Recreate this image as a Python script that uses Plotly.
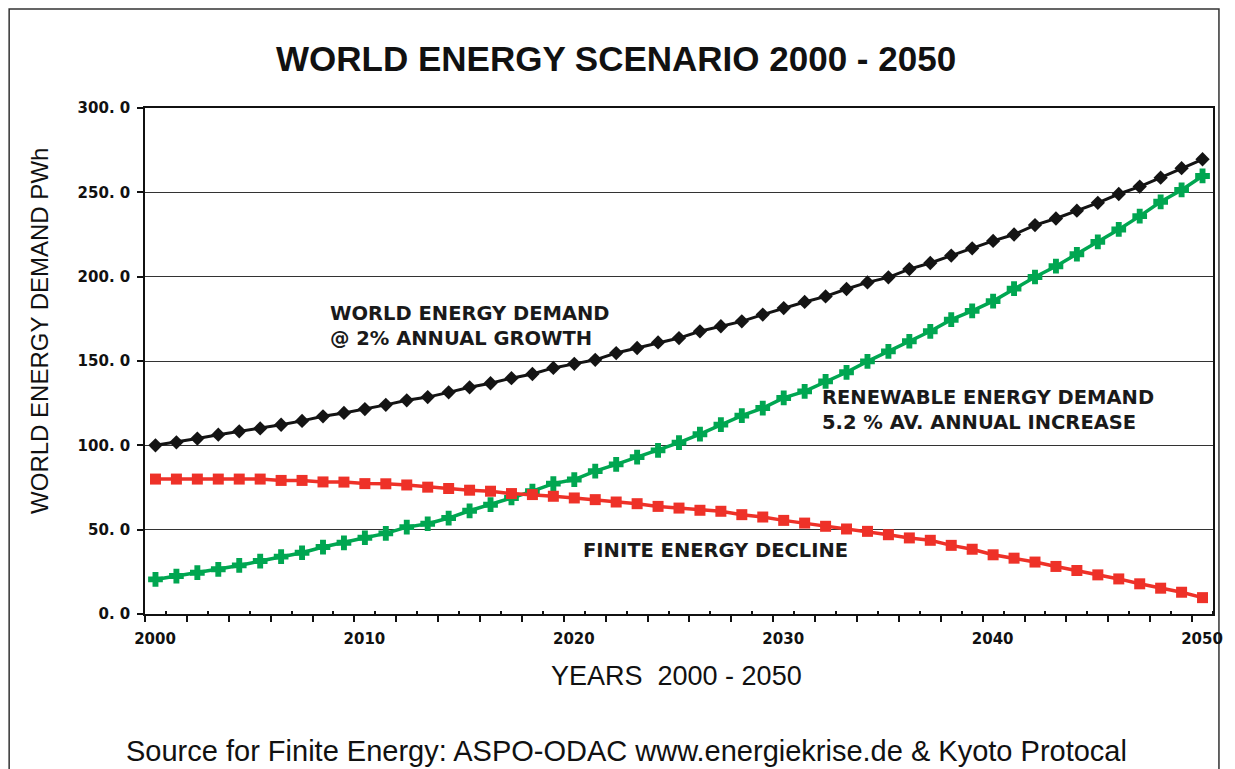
import plotly.graph_objects as go

years = list(range(2000, 2051))

world_demand = [
    100.0, 101.8, 104.0, 106.3, 108.3, 110.0, 112.2, 114.5, 117.2, 119.2,
    121.5, 124.0, 126.7, 128.6, 131.4, 134.4, 136.8, 139.8, 142.3, 145.9,
    148.3, 150.7, 154.7, 157.7, 161.0, 163.6, 167.6, 170.6, 173.5, 177.5,
    181.4, 185.0, 188.3, 192.7, 196.6, 199.6, 204.5, 208.1, 212.5, 216.8,
    221.2, 225.0, 230.6, 234.5, 239.1, 243.8, 249.0, 253.4, 258.7, 264.3,
    269.6,
]

renewable_demand = [
    20.5, 22.5, 24.5, 26.5, 28.8, 31.4, 34.0, 36.3, 39.7, 42.2,
    45.2, 47.8, 51.5, 53.5, 56.9, 61.2, 64.8, 68.8, 72.8, 77.3,
    79.7, 84.7, 88.7, 93.0, 97.0, 101.6, 106.6, 112.3, 117.6, 122.1,
    128.1, 132.0, 137.9, 143.3, 149.8, 155.7, 161.7, 167.6, 174.5, 179.7,
    185.5, 192.9, 199.8, 206.2, 213.3, 220.6, 228.0, 235.9, 244.4, 251.4,
    259.7,
]

finite_energy = [
    80.0, 80.0, 80.0, 80.0, 80.0, 80.0, 79.2, 79.2, 78.3, 78.2,
    77.3, 77.2, 76.5, 75.2, 74.4, 73.4, 72.8, 71.4, 70.8, 69.8,
    68.8, 67.8, 66.4, 65.4, 63.8, 62.8, 61.5, 60.9, 58.9, 57.5,
    55.5, 53.9, 52.0, 50.4, 49.0, 47.0, 45.1, 43.7, 40.7, 38.4,
    35.1, 33.1, 30.8, 28.2, 25.8, 23.2, 20.8, 17.9, 15.3, 12.9,
    9.7,
]

y_tick_values = [0, 50, 100, 150, 200, 250, 300]
y_tick_labels = ["0. 0", "50. 0", "100. 0", "150. 0", "200. 0", "250. 0", "300. 0"]
x_label_years = [2000, 2010, 2020, 2030, 2040, 2050]

# category boundaries (Excel-style category axis): ticks sit between categories
major_ticks = [y - 0.5 for y in years[::2]]
major_text = [str(int(v + 0.5)) if int(v + 0.5) in x_label_years else "" for v in major_ticks]
minor_ticks = [y + 0.5 for y in years[::2]]

BLACK = "#141414"
GREEN = "#00a651"
RED = "#ee3128"

fig = go.Figure()
fig.add_trace(go.Scatter(
    x=years, y=world_demand, mode="lines+markers",
    line=dict(color=BLACK, width=3),
    marker=dict(symbol="diamond", size=11, color=BLACK),
    name="World energy demand",
))
fig.add_trace(go.Scatter(
    x=years, y=renewable_demand, mode="lines+markers",
    line=dict(color=GREEN, width=3.5),
    marker=dict(symbol="cross", size=11, color=GREEN,
                line=dict(color=GREEN, width=1.5)),
    name="Renewable energy demand",
))
fig.add_trace(go.Scatter(
    x=years, y=finite_energy, mode="lines+markers",
    line=dict(color=RED, width=3.5),
    marker=dict(symbol="square", size=11, color=RED),
    name="Finite energy",
))

# page body has an 8px margin: work in screenshot pixels, then shift
OFF = 8
FW, FH = 1235 - OFF, 769 - OFF
# plot area in screenshot pixels: left 145, right 1222, top 108, bottom 614
L, R, T, B = 145, 1222, 108, 614
W, H = R - L, B - T


def px(xp):
    return (xp - L) / W


def py(yp):
    return (B - yp) / H


ann_font = dict(family="DejaVu Sans", size=19.5, color="#1a1a1a")

annotations = [
    dict(text="<b>WORLD ENERGY SCENARIO 2000 - 2050</b>", x=px(620), y=py(59),
         font=dict(family="Liberation Sans, Arial", size=35, color="#111")),
    dict(text="YEARS  2000 - 2050", x=px(681), y=py(676),
         font=dict(family="Liberation Sans, Arial", size=27, color="#111")),
    dict(text="WORLD ENERGY DEMAND PWh", x=px(38), y=py(331), textangle=-90,
         font=dict(family="Liberation Sans, Arial", size=24, color="#111")),
    dict(text="Source for Finite Energy: ASPO-ODAC www.energiekrise.de &amp; Kyoto Protocal",
         x=px(631), y=py(751),
         font=dict(family="Liberation Sans, Arial", size=29, color="#111")),
    dict(text="<b>WORLD ENERGY DEMAND<br>@ 2% ANNUAL GROWTH</b>", x=px(330), y=py(326),
         xanchor="left", align="left", font=ann_font),
    dict(text="<b>RENEWABLE ENERGY DEMAND<br>5.2 % AV. ANNUAL INCREASE</b>", x=px(826), y=py(410),
         xanchor="left", align="left", font=ann_font),
    dict(text="<b>FINITE ENERGY DECLINE</b>", x=px(585), y=py(550),
         xanchor="left", align="left", font=ann_font),
]
for a in annotations:
    a.setdefault("xanchor", "center")
    a.update(xref="paper", yref="paper", showarrow=False, yanchor="middle")

fig.update_layout(
    width=FW, height=FH,
    margin=dict(l=L - OFF, r=FW - (R - OFF), t=T - OFF, b=FH - (B - OFF)),
    paper_bgcolor="white", plot_bgcolor="white",
    showlegend=False, hovermode=False,
    annotations=annotations,
    shapes=[dict(type="rect", xref="paper", yref="paper",
                 x0=px(8), x1=px(1228), y0=py(800), y1=py(9),
                 line=dict(color="#333", width=1.5), layer="below")],
)

fig.update_xaxes(
    range=[years[0] - 0.5, years[-1] + 0.5],
    tickmode="array", tickvals=major_ticks, ticktext=major_text,
    ticks="outside", ticklen=6, tickwidth=1.5, tickcolor="#111",
    ticklabelshift=10, ticklabelstandoff=4,
    tickfont=dict(family="DejaVu Sans", size=15, color="#111", weight="bold"),
    showline=True, linecolor="#111", linewidth=1.5, mirror=True,
    showgrid=False, zeroline=False,
    minor=dict(tickmode="array", tickvals=minor_ticks, ticks="inside",
               ticklen=3, tickwidth=1.5, tickcolor="#111", showgrid=False),
)
fig.update_yaxes(
    range=[0, 300],
    tickmode="array", tickvals=y_tick_values, ticktext=y_tick_labels,
    ticks="outside", ticklen=6, tickwidth=1.5, tickcolor="#111",
    ticklabelstandoff=4,
    tickfont=dict(family="DejaVu Sans", size=15, color="#111", weight="bold"),
    showline=True, linecolor="#111", linewidth=1.5, mirror=True,
    showgrid=True, gridcolor="#333", gridwidth=1.2,
    zeroline=False,
)

fig.write_html("out.html")
